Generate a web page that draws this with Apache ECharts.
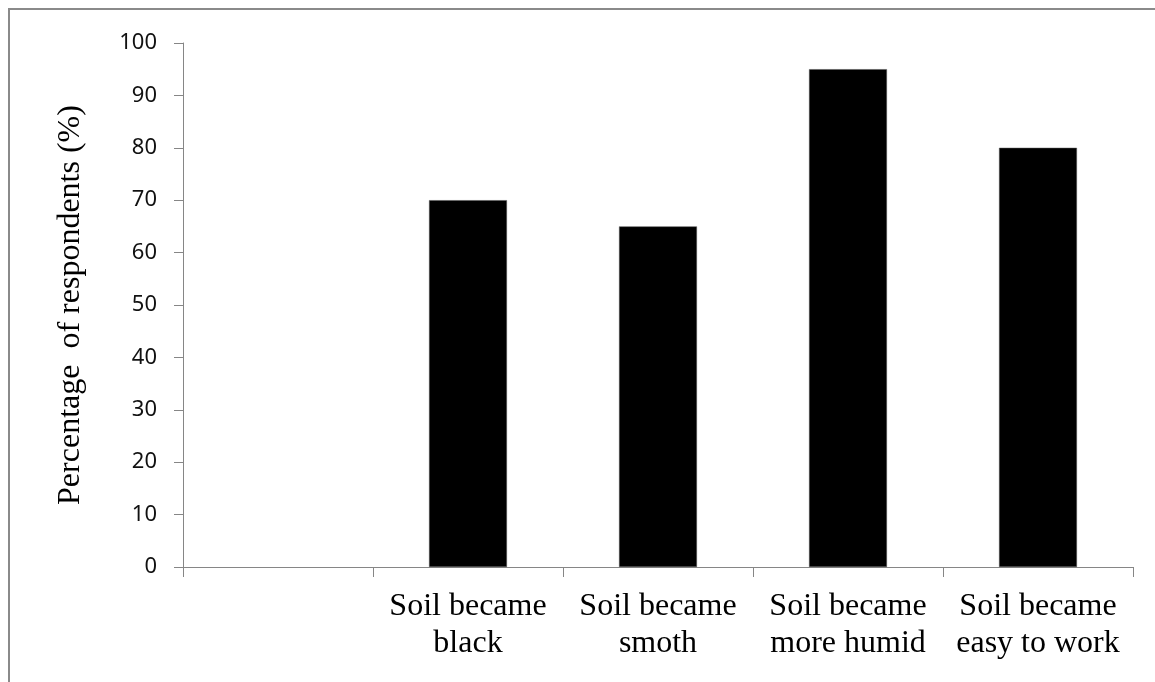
<!DOCTYPE html>
<html>
<head>
<meta charset="utf-8">
<script src="https://cdn.jsdelivr.net/npm/echarts@6/dist/echarts.min.js"></script>
<style>
html,body{margin:0;padding:0;background:#fff;}
#chart{width:1155px;height:682px;}
</style>
</head>
<body>
<div id="chart"></div>
<script>
var categories = ['', 'Soil became\nblack', 'Soil became\nsmoth', 'Soil became\nmore humid', 'Soil became\neasy to work'];
var values = [null, 70, 65, 95, 80];
var yTicks = { min: 0, max: 100, interval: 10 };
var yName = 'Percentage  of respondents (%)';

var chart = echarts.init(document.getElementById('chart'));
chart.setOption({
  backgroundColor: '#fff',
  animation: false,
  graphic: [{
    type: 'rect',
    shape: { x: 9, y: 9, width: 1170, height: 700 },
    style: { fill: 'none', stroke: '#8a8a8a', lineWidth: 2 },
    silent: true
  }],
  grid: { left: 183, right: 22, top: 43, bottom: 115, containLabel: false },
  xAxis: {
    type: 'category',
    data: categories,
    boundaryGap: true,
    axisLine: { lineStyle: { color: '#868686', width: 1 } },
    axisTick: { show: true, alignWithLabel: false, length: 10, lineStyle: { color: '#868686' } },
    axisLabel: {
      interval: 0,
      margin: 21,
      color: '#000',
      fontFamily: '"Liberation Serif", "Times New Roman", serif',
      fontSize: 32,
      lineHeight: 37
    },
    splitLine: { show: false }
  },
  yAxis: {
    type: 'value',
    min: yTicks.min,
    max: yTicks.max,
    interval: yTicks.interval,
    name: yName,
    nameLocation: 'middle',
    nameGap: 96,
    nameTextStyle: {
      color: '#000',
      fontFamily: '"Liberation Serif", "Times New Roman", serif',
      fontSize: 32
    },
    axisLine: { show: true, lineStyle: { color: '#868686', width: 1 } },
    axisTick: { show: true, length: 9, lineStyle: { color: '#868686' } },
    axisLabel: {
      margin: 26,
      color: '#111',
      fontFamily: '"Noto Sans", "Open Sans", sans-serif',
      fontSize: 22
    },
    splitLine: { show: false }
  },
  series: [{
    type: 'bar',
    data: values,
    barWidth: '41%',
    itemStyle: { color: '#000', borderColor: '#555', borderWidth: 0.5 }
  }]
});
</script>
</body>
</html>
